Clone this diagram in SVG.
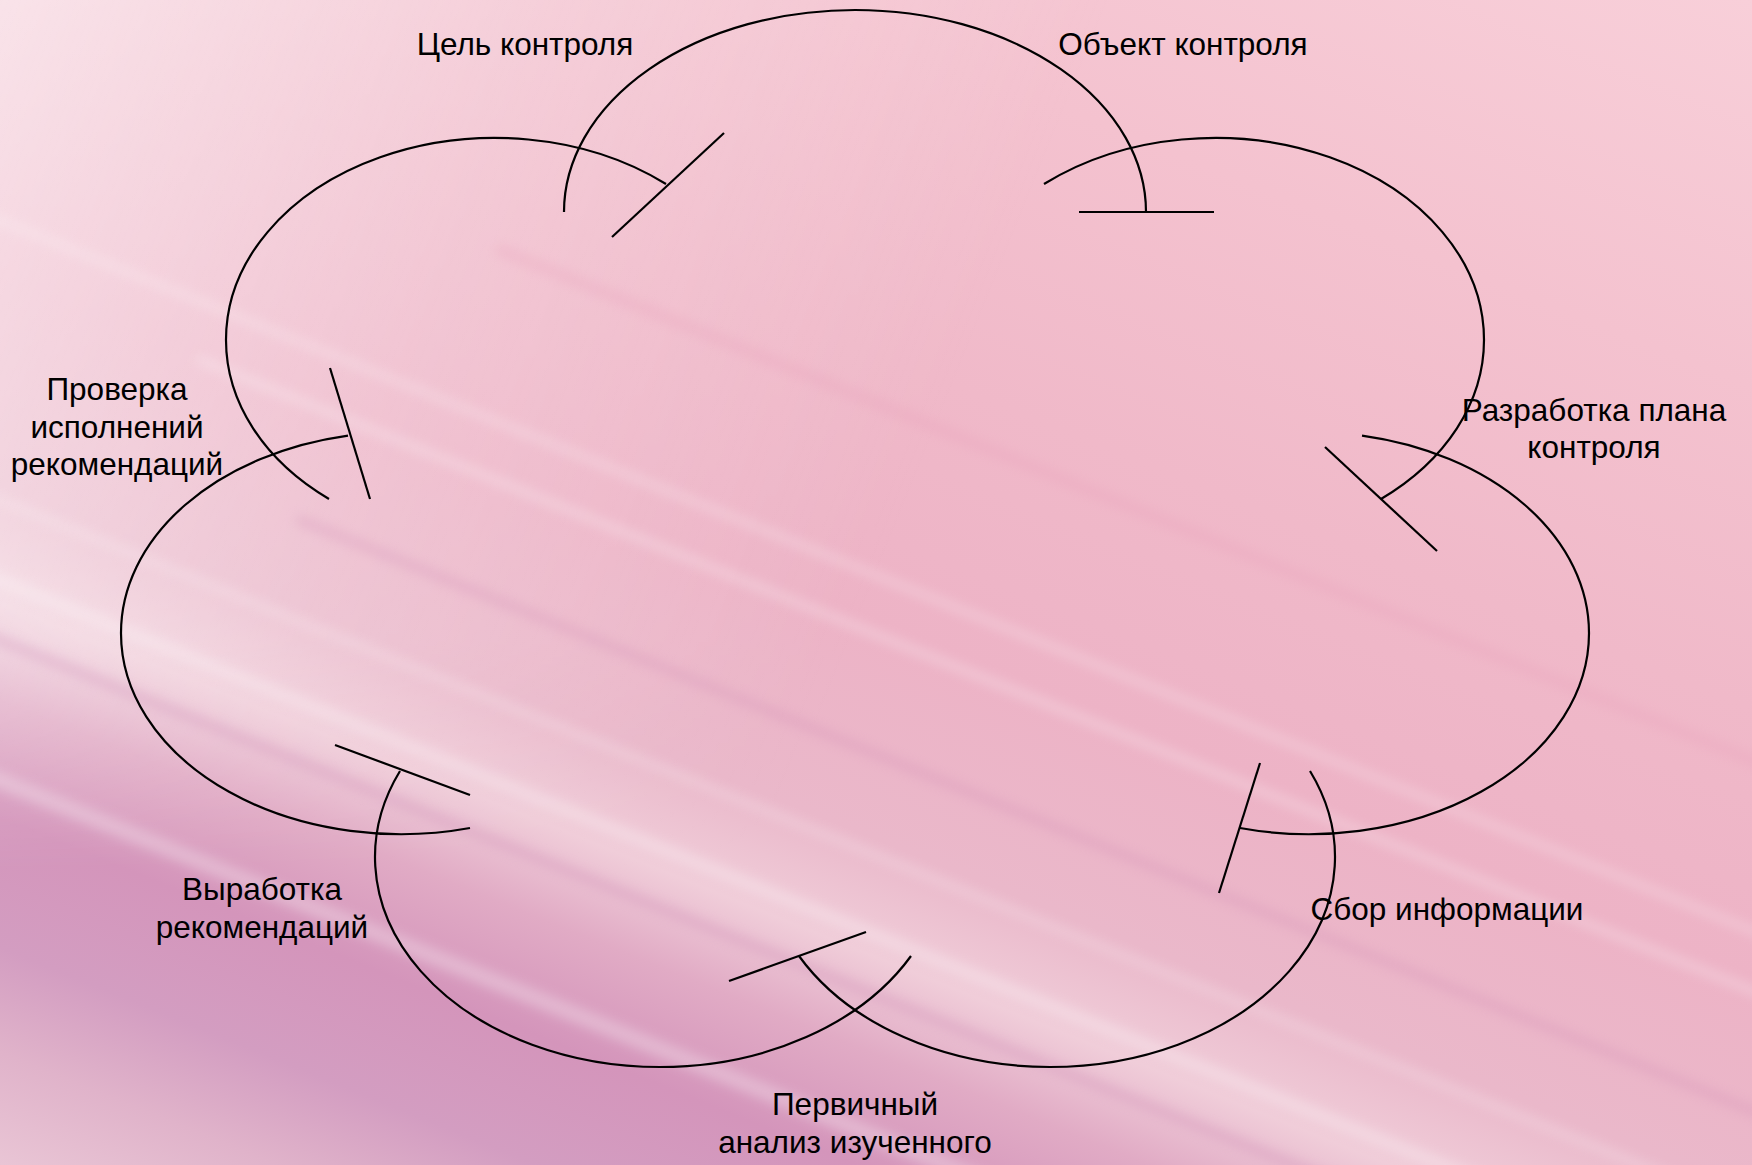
<svg xmlns="http://www.w3.org/2000/svg" width="1752" height="1165" viewBox="0 0 1752 1165">
  <defs>
    <linearGradient id="bg" gradientUnits="userSpaceOnUse" x1="1752" y1="0" x2="1101" y2="1610">
      <stop offset="0" stop-color="#f8cfd9"/>
      <stop offset="0.206" stop-color="#f4c2cf"/>
      <stop offset="0.378" stop-color="#f0b9c9"/>
      <stop offset="0.522" stop-color="#edb3c6"/>
      <stop offset="0.637" stop-color="#eab8ca"/>
      <stop offset="0.70" stop-color="#f0cdd9"/>
      <stop offset="0.752" stop-color="#e1abc5"/>
      <stop offset="0.815" stop-color="#d495bb"/>
      <stop offset="0.884" stop-color="#d39dc1"/>
      <stop offset="0.94" stop-color="#e0b3ca"/>
      <stop offset="1" stop-color="#e9c5d5"/>
    </linearGradient>
    <linearGradient id="light" gradientUnits="userSpaceOnUse" x1="0" y1="0" x2="1911" y2="773">
      <stop offset="0" stop-color="#ffffff" stop-opacity="0.6"/>
      <stop offset="0.25" stop-color="#ffffff" stop-opacity="0.25"/>
      <stop offset="0.5" stop-color="#ffffff" stop-opacity="0"/>
      <stop offset="1" stop-color="#ffffff" stop-opacity="0"/>
    </linearGradient>
    <linearGradient id="fadeDown" x1="0" y1="0" x2="0" y2="1">
      <stop offset="0" stop-color="#ffffff" stop-opacity="1"/>
      <stop offset="0.55" stop-color="#ffffff" stop-opacity="0.8"/>
      <stop offset="0.75" stop-color="#ffffff" stop-opacity="0"/>
    </linearGradient>
    <mask id="topMask">
      <rect width="1752" height="1165" fill="url(#fadeDown)"/>
    </mask>
    <filter id="blur" x="-10%" y="-50%" width="120%" height="200%">
      <feGaussianBlur stdDeviation="6"/>
    </filter>
    <style>
      .arc { fill: none; stroke: #000; stroke-width: 2.2; }
      .tee { stroke: #000; stroke-width: 2.2; }
      .lbl { font-family: "Liberation Sans", Arial, sans-serif; font-size: 31.5px; fill: #000; text-anchor: middle; }
      .streak { fill: none; stroke-linecap: round; filter: url(#blur); }
    </style>
  </defs>

  <!-- background -->
  <rect width="1752" height="1165" fill="url(#bg)"/>
  <rect width="1752" height="1165" fill="url(#light)" mask="url(#topMask)"/>
  <g opacity="0.28">
    <line class="streak" x1="-50" y1="560" x2="1800" y2="1310" stroke="#ffffff" stroke-width="12"/>
    <line class="streak" x1="-50" y1="620" x2="1800" y2="1370" stroke="#c77fae" stroke-width="10"/>
    <line class="streak" x1="200" y1="360" x2="1800" y2="1010" stroke="#ffffff" stroke-width="8"/>
    <line class="streak" x1="300" y1="520" x2="1800" y2="1130" stroke="#cf86b2" stroke-width="9"/>
    <line class="streak" x1="-50" y1="200" x2="1800" y2="950" stroke="#ffffff" stroke-width="7"/>
    <line class="streak" x1="500" y1="250" x2="1800" y2="780" stroke="#e79cb8" stroke-width="10"/>
    <line class="streak" x1="-50" y1="760" x2="1400" y2="1350" stroke="#ffffff" stroke-width="16"/>
    <line class="streak" x1="-50" y1="480" x2="1800" y2="1230" stroke="#ffffff" stroke-width="6"/>
  </g>

  <!-- connectors: arcs with tee ends -->
  <g id="connectors">
    <path class="arc" d="M 564 212 A 291 202 0 0 1 855 10 A 291 202 0 0 1 1146 212"/>
    <line class="tee" x1="1079" y1="212" x2="1214" y2="212"/>

    <path class="arc" d="M 666 184 A 269 202 0 0 0 226 340 A 269 202 0 0 0 329 499"/>
    <line class="tee" x1="724" y1="133" x2="612" y2="237"/>

    <path class="arc" d="M 1044 184 A 269 202 0 0 1 1484 340 A 269 202 0 0 1 1381 499"/>
    <line class="tee" x1="1325" y1="447" x2="1437" y2="551"/>

    <path class="arc" d="M 348 435.6 A 280 201 0 0 0 121 633 A 280 201 0 0 0 470 828"/>
    <line class="tee" x1="330" y1="368" x2="370" y2="499"/>

    <path class="arc" d="M 1362 435.6 A 280 201 0 0 1 1589 633 A 280 201 0 0 1 1240 828"/>
    <line class="tee" x1="1260" y1="763" x2="1219" y2="893"/>

    <path class="arc" d="M 400 771 A 285 210 0 0 0 660 1067 A 285 210 0 0 0 911 956"/>
    <line class="tee" x1="335" y1="745" x2="470" y2="795"/>

    <path class="arc" d="M 1310 771 A 285 210 0 0 1 1050 1067 A 285 210 0 0 1 799 956"/>
    <line class="tee" x1="729" y1="981" x2="866" y2="932"/>
  </g>

  <!-- labels -->
  <g id="node-goal">
    <text class="lbl" x="525" y="55">Цель контроля</text>
  </g>
  <g id="node-object">
    <text class="lbl" x="1183" y="55">Объект контроля</text>
  </g>
  <g id="node-plan">
    <text class="lbl" x="1594" y="421">Разработка плана</text>
    <text class="lbl" x="1594" y="458">контроля</text>
  </g>
  <g id="node-collect">
    <text class="lbl" x="1447" y="920">Сбор информации</text>
  </g>
  <g id="node-analysis">
    <text class="lbl" x="855" y="1115">Первичный</text>
    <text class="lbl" x="855" y="1153">анализ изученного</text>
  </g>
  <g id="node-recommend">
    <text class="lbl" x="262" y="900">Выработка</text>
    <text class="lbl" x="262" y="938">рекомендаций</text>
  </g>
  <g id="node-check">
    <text class="lbl" x="117" y="400">Проверка</text>
    <text class="lbl" x="117" y="437.5">исполнений</text>
    <text class="lbl" x="117" y="475">рекомендаций</text>
  </g>
</svg>
